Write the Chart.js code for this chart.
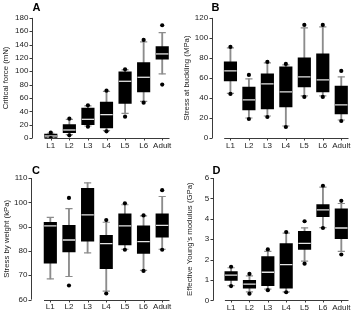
<!DOCTYPE html>
<html>
<head>
<meta charset="utf-8">
<script src="https://cdn.jsdelivr.net/npm/chart.js@4.4.1/dist/chart.umd.min.js"></script>
<style>
  body { margin: 0; background: #fff; }
  #wrap { position: relative; width: 358px; height: 318px; overflow: hidden; }
  canvas { position: absolute; }
  .tag { position: absolute; font: bold 11px "Liberation Sans", Arial, sans-serif; line-height: 11px; color: #000; }
</style>
</head>
<body>
<div id="wrap">
  <canvas id="chartA" style="left:0;top:0" width="179" height="158"></canvas>
  <canvas id="chartB" style="left:178px;top:0" width="180" height="158"></canvas>
  <canvas id="chartC" style="left:0;top:158px" width="179" height="160"></canvas>
  <canvas id="chartD" style="left:178px;top:158px" width="180" height="160"></canvas>
  <div class="tag" style="left:32.5px;top:1.9px">A</div>
  <div class="tag" style="left:211.5px;top:1.9px">B</div>
  <div class="tag" style="left:32px;top:164.6px">C</div>
  <div class="tag" style="left:212.5px;top:165.3px">D</div>
</div>
<script>
// stages
var stages = ["L1", "L2", "L3", "L4", "L5", "L6", "Adult"];

// A - critical force (mN)
var forceMin = [0.5, 5, 18, 11, 37, 55, 96];
var forceQ1 = [1, 8, 20, 15, 52, 69, 118];
var forceMed = [3, 12, 28, 35, 85, 91, 126];
var forceQ3 = [6, 20, 45, 54, 99, 113, 137];
var forceMax = [7, 28, 48, 70, 102, 144, 158];
var forceOutHi = [8, 29, 49, 71, 103, 147, 169];
var forceOutLo = [0, 4, 17, 10, 32, 53, 80];

// B - stress at buckling (MPa)
var buckMin = [44.5, 20, 22, 12, 42, 42, 18];
var buckQ1 = [57, 28, 29, 31, 51, 46, 24];
var buckMed = [67, 38, 54, 46, 61, 58, 33];
var buckQ3 = [76, 51, 64, 71, 80, 84, 52];
var buckMax = [90, 59, 75, 73, 110, 111, 61];
var buckOutHi = [91, 63, 76, 74, 113, 113, 67];
var buckOutLo = [44, 19, 21, 11, 41, 41, 17];

// C - stress by weight (kPa)
var weightMin = [68.5, 69.5, 79.2, 63.5, 80.7, 72, 80.7];
var weightQ1 = [75, 79.6, 84, 72.7, 82.5, 79, 85.7];
var weightMed = [90.3, 84.5, 94.8, 83, 90.3, 83.8, 90.5];
var weightQ3 = [91.8, 90.5, 105.8, 86.4, 95.3, 90.3, 95.3];
var weightMax = [93.8, 97.4, 108, 91.8, 99, 94.4, 102.4];
var weightOutHi = [null, 101.8, null, 92.7, 99.6, 94.6, 105];
var weightOutLo = [null, 65.8, null, 62.5, 80.5, 71.8, 80.5];

// D - effective Young's modulus (GPa)
var modMin = [0.72, 0.42, 0.55, 0.42, 1.93, 3.57, 2.4];
var modQ1 = [0.98, 0.6, 0.72, 0.6, 2.5, 4.1, 3.02];
var modMed = [1.24, 0.8, 1.38, 1.75, 2.8, 4.44, 3.55];
var modQ3 = [1.41, 0.98, 2.15, 2.78, 3.39, 4.7, 4.49];
var modMax = [1.6, 1.2, 2.4, 3.3, 3.56, 5.55, 4.75];
var modOutHi = [1.65, 1.3, 2.5, 3.35, 3.88, 5.62, 4.88];
var modOutLo = [0.7, 0.33, 0.5, 0.4, 1.8, 3.55, 2.25];

var FONT = "'Liberation Sans', Arial, sans-serif";
var whiskerGrey = "#8c8c8c";

// prism style axes: y axis pulled away from the plot, x axis shortened
var offsetAxes = {
  id: "offsetAxes",
  afterDraw: function (chart, args, opts) {
    var ctx = chart.ctx, a = chart.chartArea, x = chart.scales.x, y = chart.scales.y;
    ctx.save();
    ctx.strokeStyle = "#3a3a3a";
    ctx.lineWidth = 1;
    var ax = Math.round(a.left - opts.gap) + 0.5;
    var top = y.getPixelForValue(y.max), bot = y.getPixelForValue(y.min);
    ctx.beginPath();
    ctx.moveTo(ax, top);
    ctx.lineTo(ax, bot);
    y.ticks.forEach(function (t) {
      var py = Math.round(y.getPixelForValue(t.value)) + 0.5;
      ctx.moveTo(ax - 3, py);
      ctx.lineTo(ax, py);
    });
    var by = Math.round(a.bottom) + 0.5;
    ctx.moveTo(a.left + 3, by);
    ctx.lineTo(a.right - 2, by);
    x.ticks.forEach(function (t, i) {
      var px = Math.round(x.getPixelForTick(i)) + 0.5;
      ctx.moveTo(px, by);
      ctx.lineTo(px, by + 2);
    });
    ctx.stroke();
    ctx.restore();
  }
};

function boxPanel(id, p) {
  var ctx = document.getElementById(id).getContext("2d");
  var w = ctx.canvas.width, h = ctx.canvas.height;
  new Chart(ctx, {
    type: "bar",
    data: {
      labels: stages,
      datasets: [
        {
          type: "line", data: p.outHi, showLine: false, pointStyle: "circle",
          pointRadius: 2.1, backgroundColor: "#000", borderColor: "#000", borderWidth: 0, order: 0
        },
        {
          type: "line", data: p.outLo, showLine: false, pointStyle: "circle",
          pointRadius: 2.1, backgroundColor: "#000", borderColor: "#000", borderWidth: 0, order: 0
        },
        {
          type: "line", data: p.med, showLine: false, pointStyle: "line",
          pointRadius: 6.2, borderColor: "#e4e4e4", borderWidth: 1.3, order: 1
        },
        {
          type: "line", data: p.max, showLine: false, pointStyle: "line",
          pointRadius: 3.6, borderColor: whiskerGrey, borderWidth: 1.2, order: 2
        },
        {
          type: "line", data: p.min, showLine: false, pointStyle: "line",
          pointRadius: 3.6, borderColor: whiskerGrey, borderWidth: 1.2, order: 2
        },
        {
          data: p.q1.map(function (v, i) { return [v, p.q3[i]]; }),
          backgroundColor: "#000", barThickness: 12.5, grouped: false, order: 3
        },
        {
          data: p.min.map(function (v, i) { return [v, p.max[i]]; }),
          backgroundColor: whiskerGrey, barThickness: 1.2, grouped: false, order: 4
        }
      ]
    },
    options: {
      responsive: false,
      animation: false,
      events: [],
      layout: { padding: { top: p.top, right: w - p.right, left: 0, bottom: 0 } },
      plugins: {
        legend: { display: false },
        tooltip: { enabled: false },
        offsetAxes: { gap: p.gap }
      },
      scales: {
        x: {
          afterFit: function (s) { s.height = h - p.bottom; },
          grid: { display: false, drawTicks: false },
          border: { display: false },
          ticks: {
            color: "#222", padding: 2.6, minRotation: 0, maxRotation: 0, autoSkip: false,
            font: { size: 8, family: FONT }
          }
        },
        y: {
          min: p.yMin, max: p.yMax,
          afterFit: function (s) { s.width = p.left; },
          grid: { display: false, drawTicks: false },
          border: { display: false },
          ticks: { stepSize: p.step, color: "#222", padding: p.gap + 3.6, font: { size: 8, family: FONT } },
          title: {
            display: true, text: p.title, color: "#222",
            padding: { top: p.titleX - 4.8, bottom: 0 },
            font: { size: 7.8, family: FONT }
          }
        }
      }
    },
    plugins: [offsetAxes]
  });
}

boxPanel("chartA", {
  min: forceMin, q1: forceQ1, med: forceMed, q3: forceQ3, max: forceMax,
  outHi: forceOutHi, outLo: forceOutLo,
  yMin: 0, yMax: 180, step: 20, title: "Critical force (mN)",
  left: 41.5, right: 174.5, top: 15, bottom: 138, gap: 9.5, titleX: 5.5
});
boxPanel("chartB", {
  min: buckMin, q1: buckQ1, med: buckMed, q3: buckQ3, max: buckMax,
  outHi: buckOutHi, outLo: buckOutLo,
  yMin: 0, yMax: 120, step: 20, title: "Stress at buckling (MPa)",
  left: 43.2, right: 177.6, top: 14.7, bottom: 138, gap: 9.5, titleX: 9
});
boxPanel("chartC", {
  min: weightMin, q1: weightQ1, med: weightMed, q3: weightQ3, max: weightMax,
  outHi: weightOutHi, outLo: weightOutLo,
  yMin: 60, yMax: 110, step: 10, title: "Stress by weight (kPa)",
  left: 41, right: 174.5, top: 20, bottom: 144.7, gap: 10, titleX: 6.5
});
boxPanel("chartD", {
  min: modMin, q1: modQ1, med: modMed, q3: modQ3, max: modMax,
  outHi: modOutHi, outLo: modOutLo,
  yMin: 0, yMax: 6, step: 1, title: "Effective Young's modulus (GPa)",
  left: 43.9, right: 178.3, top: 20, bottom: 144.7, gap: 9.2, titleX: 12
});
</script>
</body>
</html>
